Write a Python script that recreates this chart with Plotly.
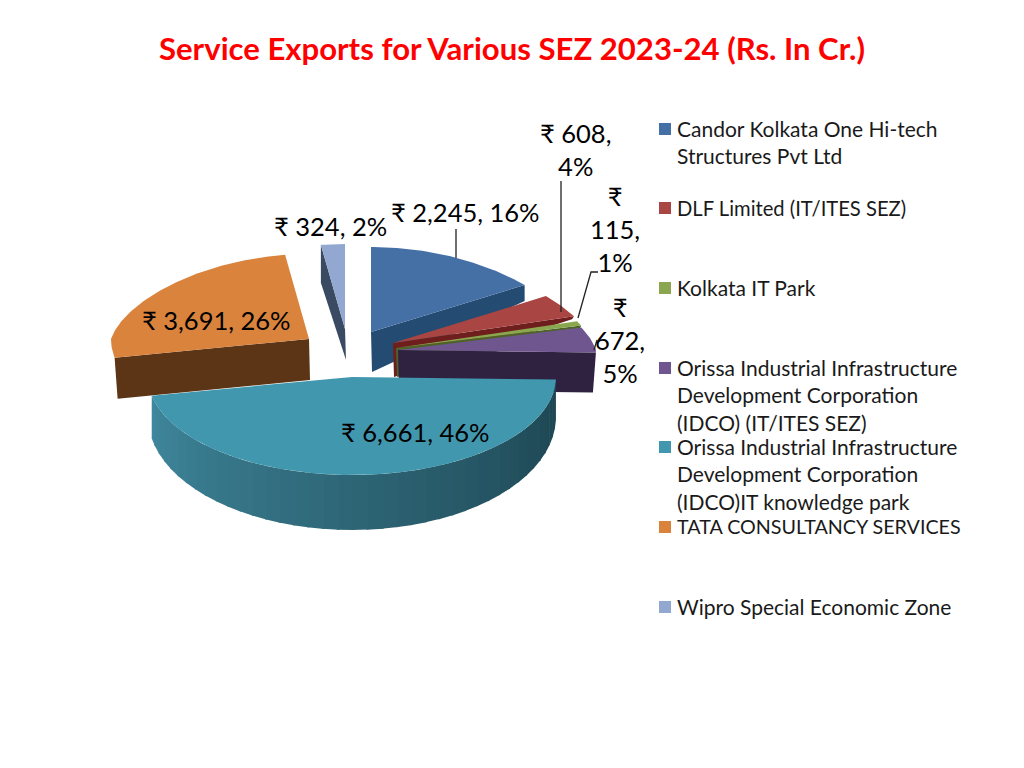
import math
import plotly.graph_objects as go

# ---- data ----
categories = [
    "Candor Kolkata One Hi-tech<br>Structures Pvt Ltd",
    "DLF Limited (IT/ITES SEZ)",
    "Kolkata IT Park",
    "Orissa Industrial Infrastructure<br>Development Corporation<br>(IDCO) (IT/ITES SEZ)",
    "Orissa Industrial Infrastructure<br>Development Corporation<br>(IDCO)IT knowledge park",
    "TATA CONSULTANCY SERVICES",
    "Wipro Special Economic Zone",
]
values = [2245, 608, 115, 672, 6661, 3691, 324]
percents = [16, 4, 1, 5, 46, 26, 2]
title_text = "Service Exports for Various SEZ 2023-24 (Rs. In Cr.)"

# ---- styles ----
top_colors = ["#4470A6", "#A94543", "#8AA64E", "#70568F", "#4097AE", "#D9833D", "#92A8D0"]
wall_colors = ["#244C73", "#6E1E1C", "#4E6329", "#2F2140", None, "#5B3516", "#3B4A63"]
FONT = "Lato, Carlito, 'Noto Sans', sans-serif"
legend_sizes = [21, 20.2, 21, 21, 21, 19.7, 21]
legend_text_offset = [15, 14, 15, 15, 15, 14, 15]

# ---- pie projection (pixel-based hidden axes) ----
RY_FAR, RY_NEAR, SHRINK = 85, 98, 0.15
radii = [201, 200, 200, 198, 204, 198, 200]
apex = [(371, 332), (393, 343), (396, 348), (398, 350), (352, 377), (309, 339), (345, 329)]
apex_depth = [40, 34, 29, 40, 40, 41, 31]
rim_depth = [16, 3, 5, 40, 40, 41, 38]
rim_shift = [0, -2, -2, -3, 0, 3, 0]
wall_side = ["end", "end", "end", "end", "none", "start", "start"]


def rim(a, th, rx):
    s, c = math.sin(th), math.cos(th)
    return (a[0] + rx * s * (1 - SHRINK * max(c, 0.0)),
            a[1] - (RY_FAR if c > 0 else RY_NEAR) * c)


def arc(a, t0, t1, rx):
    n = max(2, int(abs(t1 - t0) * 60))
    return [rim(a, t0 + (t1 - t0) * i / n, rx) for i in range(n + 1)]


total = sum(values)
bounds = [0.0]
for v in values:
    bounds.append(bounds[-1] + 2 * math.pi * v / total)

fig = go.Figure()


def poly(pts, color, name):
    xs = [p[0] for p in pts] + [pts[0][0]]
    ys = [p[1] for p in pts] + [pts[0][1]]
    fig.add_trace(go.Scatter(x=xs, y=ys, mode="lines", fill="toself", fillcolor=color,
                             line=dict(width=0, color=color), name=name, showlegend=False,
                             hoverinfo="name"))


def mix(c1, c2, t):
    a = [int(c1[i:i + 2], 16) for i in (1, 3, 5)]
    b = [int(c2[i:i + 2], 16) for i in (1, 3, 5)]
    return "#" + "".join(f"{round(a[i] + (b[i] - a[i]) * t):02x}" for i in range(3))


order = [6, 0, 1, 2, 3, 5, 4]
for i in order:
    t0, t1 = bounds[i], bounds[i + 1]
    a = apex[i]
    rx = radii[i]
    name = categories[i].replace("<br>", " ")
    if wall_side[i] != "none":
        r = rim(a, t1 if wall_side[i] == "end" else t0, rx)
        poly([a, r, (r[0] + rim_shift[i], r[1] + rim_depth[i]), (a[0] + 1, a[1] + apex_depth[i])],
             wall_colors[i], name)
    else:
        # outer wall of the large front slice, shaded in bands
        bands = 40
        for b in range(bands):
            u0 = t0 + (t1 - t0) * b / bands
            u1 = min(t0 + (t1 - t0) * (b + 1.15) / bands, t1)
            up = arc(a, u0, u1, rx)
            dn = [(p[0], p[1] + 40 + 15 * max(0.0, -math.cos(u0 + (u1 - u0) * k / (len(up) - 1))))
                  for k, p in enumerate(up)]
            f = b / (bands - 1)          # 0 = right end, 1 = left end
            poly(up + dn[::-1], mix("#1D4551", "#3F879C", f ** 1.1), name)
    poly([a] + arc(a, t0, t1, rx), top_colors[i], name)

# ---- data labels ----
label_pos = [(465, 212), (575, 149), (615, 229), (620, 340), (415, 432), (216, 320), (330, 226)]
wrap = [False, "two", "three", "three", False, False, False]
annotations = []
for i, (v, p) in enumerate(zip(values, percents)):
    if wrap[i] == "two":
        txt = f"₹ {v:,},<br>{p}%"
    elif wrap[i] == "three":
        txt = f"₹<br>{v:,},<br>{p}%"
    else:
        txt = f"₹ {v:,}, {p}%"
    annotations.append(dict(x=label_pos[i][0], y=label_pos[i][1], text=txt, showarrow=False,
                            xref="x", yref="y", xanchor="center", yanchor="middle", align="center",
                            font=dict(family=FONT, size=25.5, color="#000000")))

# ---- legend keys and text ----
legend_y = [129, 208, 288, 368, 447, 527, 607]
for i, cat in enumerate(categories):
    fig.add_trace(go.Scatter(x=[665], y=[legend_y[i]], mode="markers", showlegend=False,
                             marker=dict(symbol="square", size=12, color=top_colors[i]),
                             name=cat.replace("<br>", " "), hoverinfo="name"))
    annotations.append(dict(x=675, y=legend_y[i] - legend_text_offset[i], text=cat, showarrow=False,
                            xref="x", yref="y", xanchor="left", yanchor="top", align="left",
                            font=dict(family=FONT, size=legend_sizes[i], color="#1a1a1a")))

# ---- title ----
annotations.append(dict(x=511.5, y=48, text=f"<b>{title_text}</b>", showarrow=False, xref="x", yref="y",
                        xanchor="center", yanchor="middle",
                        font=dict(family=FONT, size=31.1, color="#FF0000")))

# ---- leader lines ----
leaders = [[(456, 229), (456, 258)], [(561, 181), (561, 312)],
           [(598, 272), (591, 272), (578, 318)], [(597, 340), (594, 350)]]
for seg in leaders:
    fig.add_trace(go.Scatter(x=[p[0] for p in seg], y=[p[1] for p in seg], mode="lines",
                             line=dict(color="#222222", width=1.3), showlegend=False, hoverinfo="skip"))

fig.update_layout(
    width=1024, height=768, margin=dict(l=0, r=0, t=0, b=0),
    paper_bgcolor="white", plot_bgcolor="white", showlegend=False,
    xaxis=dict(range=[0, 1024], visible=False, fixedrange=True),
    yaxis=dict(range=[768, 0], visible=False, fixedrange=True),
    annotations=annotations,
)
fig.write_html("out.html", config=dict(displayModeBar=False),
               post_script="document.body.style.margin='0';document.body.style.overflow='hidden';")
